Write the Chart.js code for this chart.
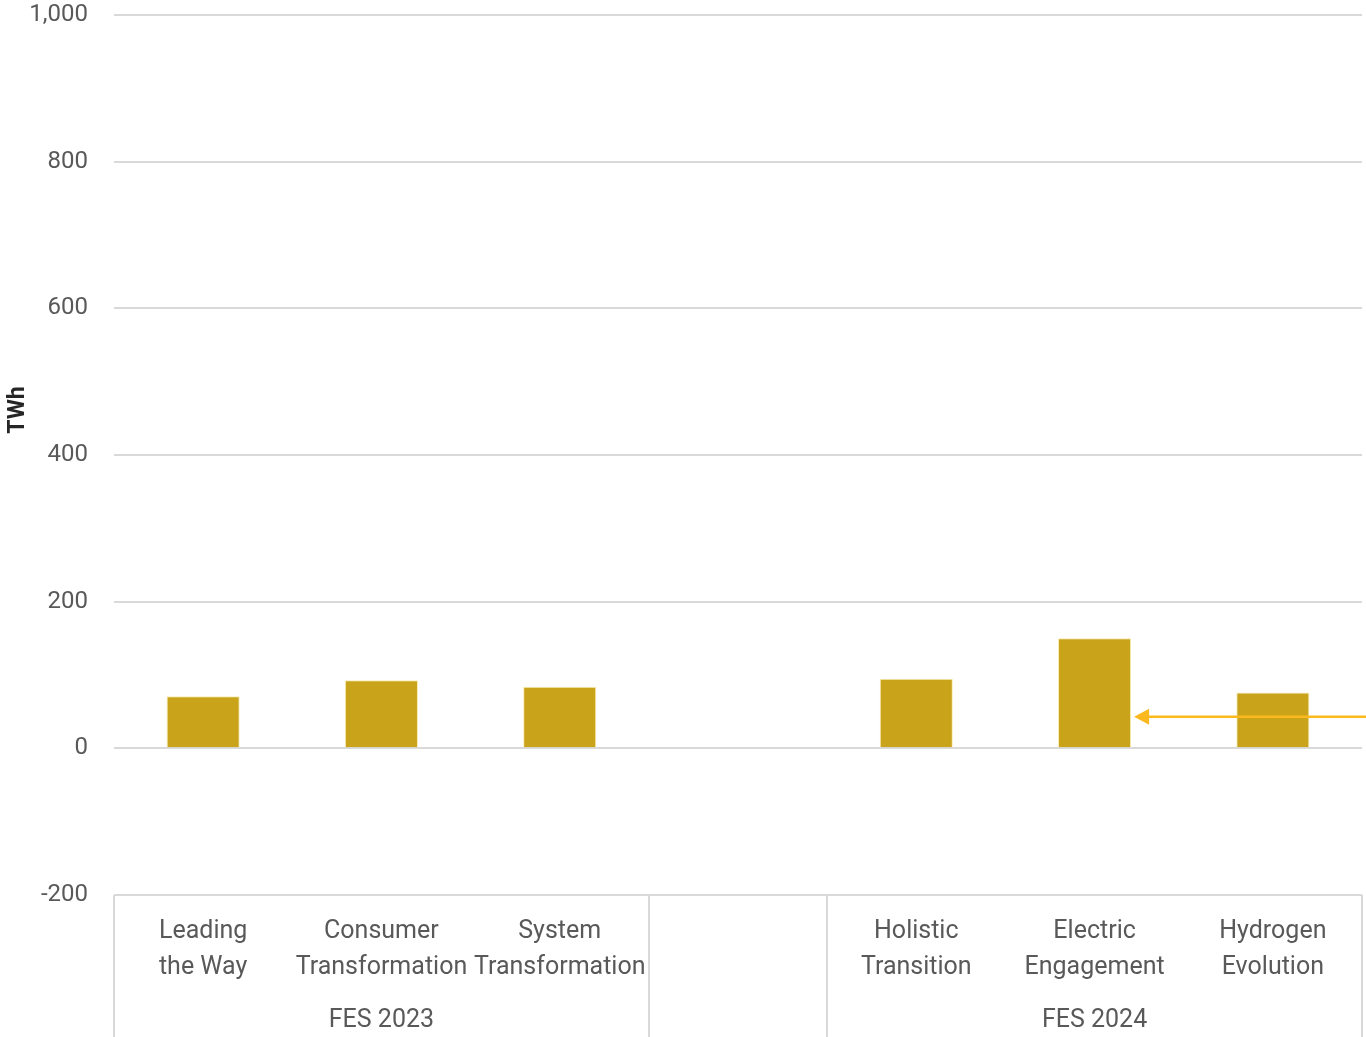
<!DOCTYPE html>
<html>
<head>
<meta charset="utf-8">
<script src="https://cdn.jsdelivr.net/npm/chart.js@4.4.1/dist/chart.umd.min.js"></script>
<style>
  html, body { margin: 0; padding: 0; background: #ffffff; }
  #wrap { width: 1366px; height: 1037px; position: relative; }
</style>
</head>
<body>
<div id="wrap"><canvas id="chart"></canvas></div>
<script>
// Scenario labels (blank slot separates the two FES editions)
const scenarios = [
    ['Leading', 'the Way'],
    ['Consumer', 'Transformation'],
    ['System', 'Transformation'],
    '',
    ['Holistic', 'Transition'],
    ['Electric', 'Engagement'],
    ['Hydrogen', 'Evolution']
];
const values = [71, 93, 84, null, 95, 150, 76];

// Group headings and how many slots each spans
const groups = ['FES 2023', '', 'FES 2024'];
const groupSpans = [3, 1, 3];

// Level marked by the arrow, and the bar it points at
const arrowValue = 43;
const arrowTarget = 5;

const yTicks = [-200, 0, 200, 400, 600, 800, 1000];

const gridGrey = '#d9d9d9';
const textGrey = '#595959';
const fontFamily = "Roboto, 'Open Sans', sans-serif";

// Group brackets under the category labels, plus the unit title
const groupAxisPlugin = {
    id: 'groupAxis',
    afterDraw(chart) {
        const { ctx, scales: { x, y } } = chart;
        const top = y.getPixelForValue(-200);
        const bottom = chart.height;
        const step = (x.right - x.left) / scenarios.length;
        ctx.save();
        ctx.strokeStyle = gridGrey;
        ctx.lineWidth = 2;
        let idx = 0;
        const edges = [x.left];
        groupSpans.forEach(s => { idx += s; edges.push(x.left + idx * step); });
        edges.forEach(px => {
            ctx.beginPath();
            ctx.moveTo(Math.round(px), top);
            ctx.lineTo(Math.round(px), bottom);
            ctx.stroke();
        });
        ctx.fillStyle = textGrey;
        ctx.font = '25px ' + fontFamily;
        ctx.textAlign = 'center';
        ctx.textBaseline = 'middle';
        groups.forEach((g, i) => {
            if (!g) return;
            ctx.fillText(g, (edges[i] + edges[i + 1]) / 2, top + 126);
        });

        ctx.translate(18, 410);
        ctx.rotate(-Math.PI / 2);
        ctx.fillStyle = '#262626';
        ctx.font = 'bold 23px ' + fontFamily;
        ctx.fillText('TWh', 0, 0);
        ctx.restore();
    }
};

// Horizontal arrow coming in from the right edge
const arrowPlugin = {
    id: 'levelArrow',
    afterDatasetsDraw(chart) {
        const { ctx, scales: { y } } = chart;
        const bar = chart.getDatasetMeta(0).data[arrowTarget];
        const py = y.getPixelForValue(arrowValue);
        const tip = bar.x + bar.width / 2 + 3;
        ctx.save();
        ctx.strokeStyle = '#fbb91f';
        ctx.fillStyle = '#fbb91f';
        ctx.lineWidth = 2.5;
        ctx.beginPath();
        ctx.moveTo(tip + 12, py);
        ctx.lineTo(chart.width, py);
        ctx.stroke();
        ctx.beginPath();
        ctx.moveTo(tip, py);
        ctx.lineTo(tip + 15, py - 8);
        ctx.lineTo(tip + 15, py + 8);
        ctx.closePath();
        ctx.fill();
        ctx.restore();
    }
};

new Chart(document.getElementById('chart'), {
    type: 'bar',
    data: {
        labels: scenarios,
        datasets: [{
            data: values,
            backgroundColor: '#c9a319',
            borderColor: 'rgba(250, 235, 170, 0.9)',
            borderWidth: 1,
            barPercentage: 0.82,
            categoryPercentage: 0.5
        }]
    },
    options: {
        responsive: true,
        maintainAspectRatio: false,
        animation: false,
        layout: { padding: { top: 15, right: 4, left: 0, bottom: 0 } },
        plugins: {
            legend: { display: false },
            tooltip: { enabled: false }
        },
        scales: {
            x: {
                grid: { display: false },
                border: { display: false },
                ticks: {
                    color: textGrey,
                    font: { family: fontFamily, size: 25, lineHeight: 1.44 },
                    autoSkip: false,
                    maxRotation: 0,
                    minRotation: 0,
                    padding: 11
                },
                afterFit(scale) { scale.height = 142; }
            },
            y: {
                min: -200,
                max: 1000,
                afterBuildTicks(scale) {
                    scale.ticks = yTicks.map(v => ({ value: v }));
                },
                grid: {
                    color: gridGrey,
                    lineWidth: 2,
                    drawTicks: false
                },
                border: { display: false },
                ticks: {
                    color: textGrey,
                    font: { family: fontFamily, size: 24 },
                    padding: 26,
                    callback: v => v.toLocaleString('en-US')
                },
                afterFit(scale) {
                    scale.width = 114;
                    scale.paddingTop = 0;
                    scale.paddingBottom = 0;
                }
            }
        }
    },
    plugins: [groupAxisPlugin, arrowPlugin]
});
</script>
</body>
</html>
